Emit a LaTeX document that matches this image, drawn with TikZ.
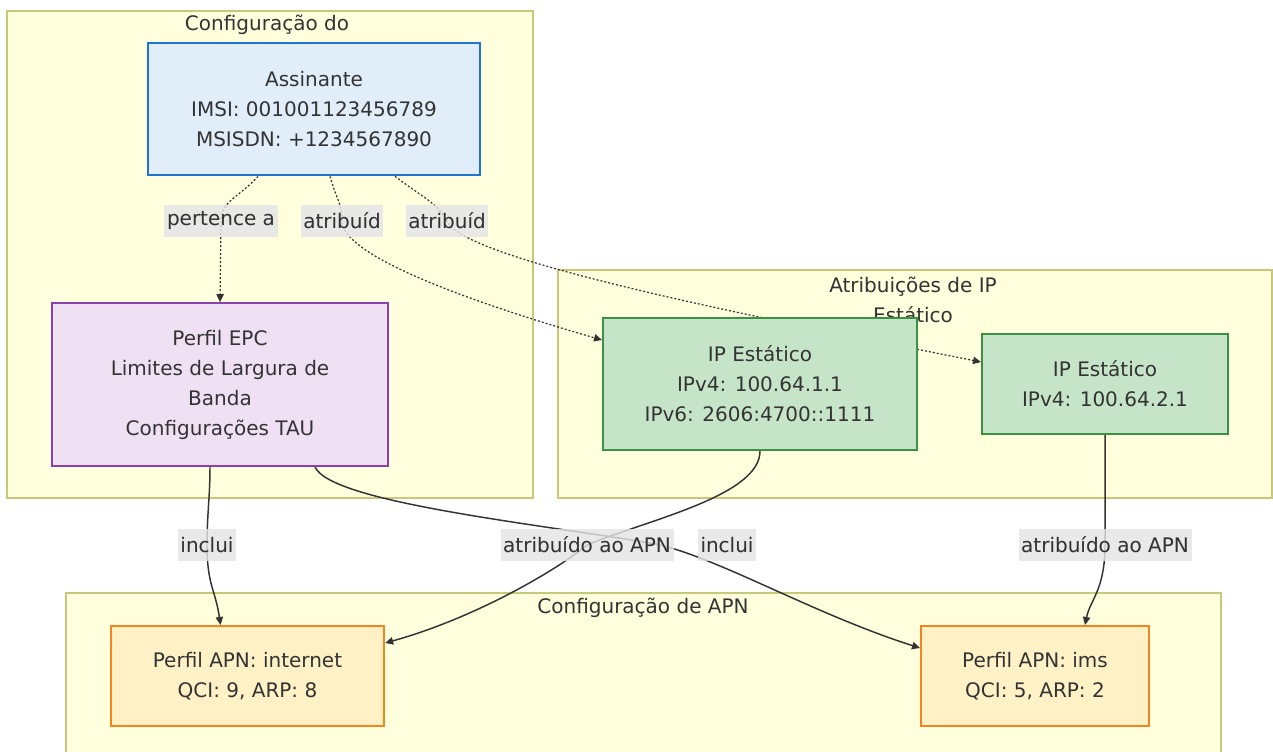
\documentclass[tikz,border=0pt]{standalone}
\usepackage{fontspec}
\setmainfont{DejaVu Sans}
\usetikzlibrary{arrows.meta,calc}

\definecolor{txt}{HTML}{333333}
\definecolor{grpfill}{HTML}{FFFFDE}
\definecolor{grpline}{HTML}{C8C87A}
\definecolor{lblfill}{HTML}{E8E8E8}
\definecolor{subline}{HTML}{1E74D6}
\definecolor{subfill}{HTML}{E1EEFA}
\definecolor{epcline}{HTML}{8E3FAE}
\definecolor{epcfill}{HTML}{F0E0F4}
\definecolor{ipline}{HTML}{3A9143}
\definecolor{ipfill}{HTML}{C6E5C8}
\definecolor{apnline}{HTML}{F5841F}
\definecolor{apnfill}{HTML}{FFF1C6}

\tikzset{every picture/.style={line width=0.75pt}}

\begin{document}
\begin{tikzpicture}[x=0.75pt,y=0.75pt,yscale=-1,xscale=1,
  font=\fontsize{15pt}{22.5pt}\selectfont, text=txt,
  grp/.style={draw=grpline,fill=grpfill,line width=0.9pt},
  grptitle/.style={inner sep=0pt,align=center},
  box/.style={draw,align=center,line width=1.5pt,inner sep=0pt},
  subbox/.style={box,draw=subline,fill=subfill,line width=2pt},
  epcbox/.style={box,draw=epcline,fill=epcfill},
  ipbox/.style={box,draw=ipline,fill=ipfill},
  apnbox/.style={box,draw=apnline,fill=apnfill},
  lbl/.style={fill=lblfill,fill opacity=0.8,text opacity=1,inner xsep=2pt,inner ysep=0pt,minimum height=24pt},
  link/.style={draw=txt,line width=1.1pt,-{Triangle[length=6pt,width=5.5pt]}},
  dlink/.style={link,line width=0.9pt,dash pattern=on 1.5pt off 1.5pt}]

\clip (0,0) rectangle (1273,752);

%Cluster: Configuração do
\draw[grp] (7,11) rectangle (533,498);
\node[grptitle] (tsub) at (267,25) {Configuração do};
%Cluster: Atribuições de IP Estático
\draw[grp] (558,270) rectangle (1272,498);
\node[grptitle] (tip) at (913,300) {Atribuições de IP\\Estático};
%Cluster: Configuração de APN
\draw[grp] (66,593) rectangle (1221,780);
\node[grptitle] (tapn) at (643,608) {Configuração de APN};

% Edge labels
\node[lbl] (lpert) at (221,221) {pertence a};
\node[lbl] (latr1) at (342,221) {atribuíd};
\node[lbl] (latr2) at (447,221) {atribuíd};
\node[lbl] (linc1) at (207,545) {inclui};
\node[lbl] (lapn1) at (587,545) {atribuído ao APN};
\node[lbl] (linc2) at (727,545) {inclui};
\node[lbl] (lapn2) at (1105,545) {atribuído ao APN};

% Nodes (placed first so edges can use them, drawn again on top below)
\path (314,109) node[subbox,minimum width=249pt,minimum height=99pt] (sub) {};
\path (220,384.5) node[epcbox,minimum width=252pt,minimum height=122pt] (epc) {};
\path (760,384) node[ipbox,minimum width=235.5pt,minimum height=99pt] (ip1) {};
\path (1105,384) node[ipbox,minimum width=184.5pt,minimum height=75pt] (ip2) {};
\path (247.5,676) node[apnbox,minimum width=205pt,minimum height=75pt] (apn1) {};
\path (1035,676) node[apnbox,minimum width=171pt,minimum height=75pt] (apn2) {};
\coordinate (cross) at (650,543);

%Edges
\draw[dlink] ($(sub.south)+(-56,0)$) .. controls +(-20,22) and +(0,-20) .. (lpert.center) -- (epc.north);
\draw[dlink] ($(sub.south)+(16,0)$) .. controls +(6,22) and +(0,-18) .. (latr1.center) .. controls +(0,40) and +(-90,-26) .. ($(ip1.west)+(0,-44)$);
\draw[dlink] ($(sub.south)+(81,0)$) .. controls +(32,24) and +(-10,-18) .. (latr2.center) .. controls +(15,40) and +(-200,-40) .. ($(ip2.west)+(0,-22)$);
\draw[link] ($(epc.south)+(-10,0)$) .. controls +(0,30) and +(0,-30) .. (linc1.center) .. controls +(0,40) and +(-5,-35) .. ($(apn1.north)+(-27,0)$);
\draw[link] (ip1.south) .. controls +(0,45) and +(60,-25) .. (lapn1.center) .. controls +(-30,25) and +(90,-25) .. ($(apn1.east)+(0,-33)$);
\draw[link] ($(epc.south)+(95,0)$) .. controls +(15,35) and +(-120,-20) .. (cross) .. controls +(60,10) and +(-110,-35) .. ($(apn2.west)+(0,-28)$);
\draw[link] (ip2.south) -- (lapn2.center) .. controls +(0,45) and +(5,-25) .. ($(apn2.north)+(50,0)$);

% Edge labels on top of the lines
\node[lbl] at (lpert) {pertence a};
\node[lbl] at (latr1) {atribuíd};
\node[lbl] at (latr2) {atribuíd};
\node[lbl] at (linc1) {inclui};
\node[lbl] at (lapn1) {atribuído ao APN};
\node[lbl] at (linc2) {inclui};
\node[lbl] at (lapn2) {atribuído ao APN};

% Text Nodes
\node[subbox,minimum width=249pt,minimum height=99pt] at (sub) {Assinante\\IMSI: 001001123456789\\MSISDN: +1234567890};
\node[epcbox,minimum width=252pt,minimum height=122pt] at (epc) {Perfil EPC\\Limites de Largura de\\Banda\\Configurações TAU};
\node[ipbox,minimum width=235.5pt,minimum height=99pt] at (ip1) {IP Estático\\IPv4: 100.64.1.1\\IPv6: 2606:4700::1111};
\node[ipbox,minimum width=184.5pt,minimum height=75pt] at (ip2) {IP Estático\\IPv4: 100.64.2.1};
\node[apnbox,minimum width=205pt,minimum height=75pt] at (apn1) {Perfil APN: internet\\QCI: 9, ARP: 8};
\node[apnbox,minimum width=171pt,minimum height=75pt] at (apn2) {Perfil APN: ims\\QCI: 5, ARP: 2};

\end{tikzpicture}
\end{document}
